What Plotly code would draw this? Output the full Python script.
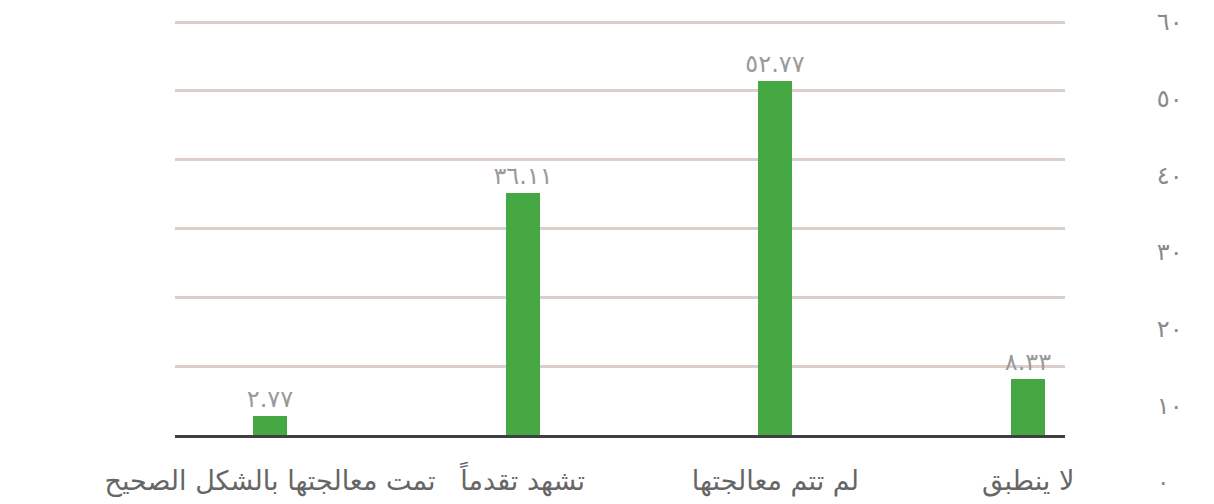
import plotly.graph_objects as go

categories = ["لا ينطبق", "لم تتم معالجتها", "تشهد تقدماً", "تمت معالجتها بالشكل الصحيح"]
values = [8.33, 52.77, 36.11, 2.77]
value_labels = ["٨.٣٣", "٥٢.٧٧", "٣٦.١١", "٢.٧٧"]
y_tick_vals = [0, 10, 20, 30, 40, 50, 60]
y_tick_text = ["٠", "١٠", "٢٠", "٣٠", "٤٠", "٥٠", "٦٠"]

FONT = "DejaVu Sans"
OFF = 8  # browser default body margin
W, H = 1214 - OFF, 504 - OFF
top_px, bottom_px = 20 - OFF, 484 - OFF
grid_top_px = 22 - OFF
axis_bottom_px = 435 - OFF
label_bottom_px = 482 - OFF
ph = bottom_px - top_px
plot_h = axis_bottom_px - top_px
YMAX = 60 * plot_h / (axis_bottom_px - grid_top_px)
BAR_PX_PER_UNIT = 6.71
YMAX_BAR = plot_h / BAR_PX_PER_UNIT

fig = go.Figure()
fig.add_trace(go.Bar(
    x=categories, y=values, width=0.135, yaxis="y3",
    marker=dict(color="#46a843", line=dict(width=0)),
    text=value_labels, textposition="outside", constraintext="none",
    textfont=dict(family=FONT, size=24, color="#9a9a9a"),
    cliponaxis=False, hoverinfo="skip", showlegend=False,
))
# invisible trace to carry the offset tick-label axis
fig.add_trace(go.Scatter(
    x=categories, y=values, yaxis="y2", mode="markers",
    marker=dict(opacity=0), hoverinfo="skip", showlegend=False,
))
# invisible trace to carry the gridline axis
fig.add_trace(go.Scatter(
    x=categories, y=values, yaxis="y", mode="markers",
    marker=dict(opacity=0), hoverinfo="skip", showlegend=False,
))

main_domain = [(bottom_px - axis_bottom_px) / ph, 1]

fig.update_layout(
    width=W, height=H,
    margin=dict(l=175 - OFF, r=149, t=top_px, b=H - bottom_px, pad=0, autoexpand=False),
    paper_bgcolor="white", plot_bgcolor="rgba(0,0,0,0)",
    font=dict(family=FONT),
    xaxis=dict(
        type="category", range=[3.376, -0.146], anchor="y", automargin=False,
        showgrid=False, showline=True, linecolor="#3d4040", linewidth=2.5,
        ticks="outside", ticklen=20, tickcolor="rgba(0,0,0,0)",
        tickfont=dict(family=FONT, size=27, color="#666666"),
        zeroline=False,
    ),
    yaxis=dict(
        range=[0, YMAX], domain=main_domain,
        automargin=False,
        showticklabels=False, tickvals=y_tick_vals[1:],
        showgrid=True, gridcolor="#dccfca", gridwidth=2.5,
        zeroline=False, showline=False,
    ),
    yaxis3=dict(
        range=[0, YMAX_BAR], overlaying="y", anchor="x", automargin=False,
        visible=False, showgrid=False, zeroline=False,
    ),
    yaxis2=dict(
        range=[0, 60],
        domain=[(bottom_px - label_bottom_px) / ph, 1 - (grid_top_px - top_px) / ph],
        anchor="x", side="right", automargin=False,
        tickvals=y_tick_vals, ticktext=y_tick_text,
        ticks="outside", ticklen=86, tickcolor="rgba(0,0,0,0)",
        tickfont=dict(family=FONT, size=24, color="#8a8a8a"),
        showgrid=False, zeroline=False, showline=False,
    ),
    bargap=0,
)

fig.write_html("out.html")
